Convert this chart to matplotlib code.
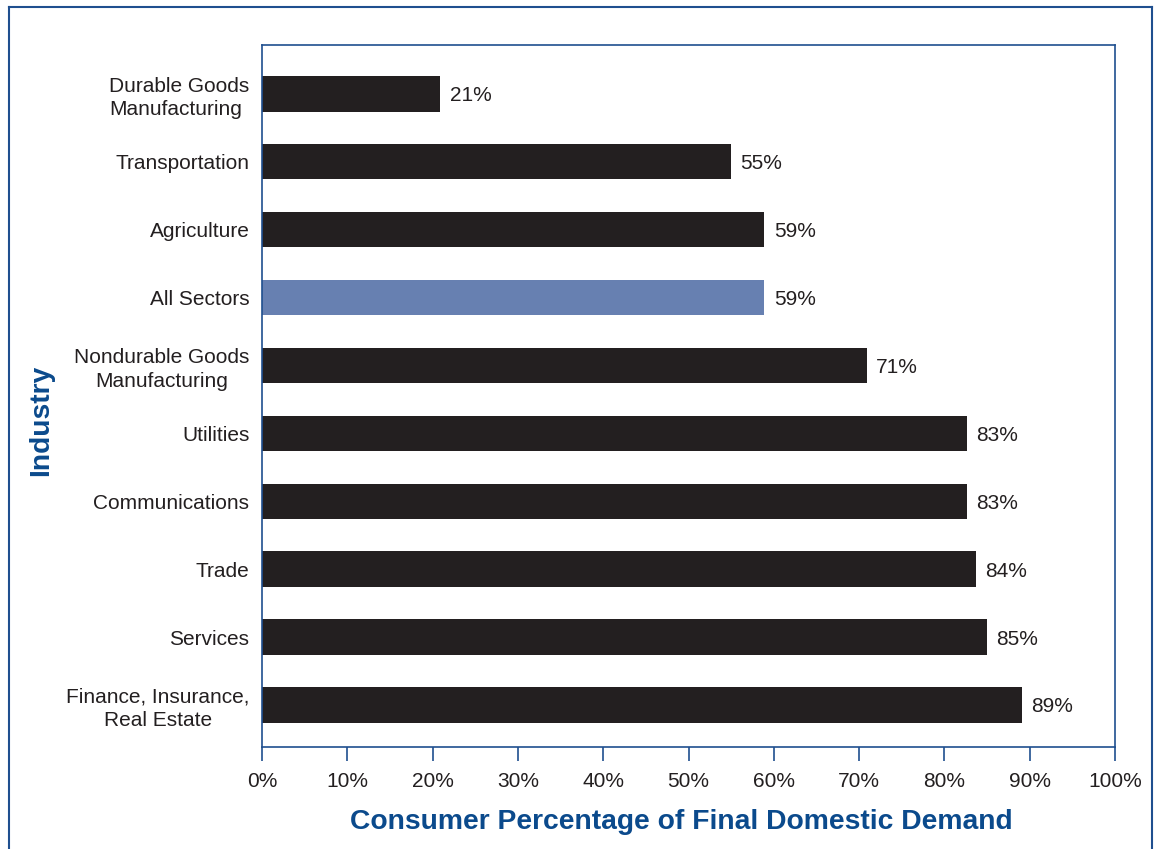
import matplotlib.pyplot as plt
import numpy as np
from matplotlib.lines import Line2D

plt.rcParams['font.family'] = ['Liberation Sans', 'DejaVu Sans']

industries = ["Durable Goods\nManufacturing", "Transportation", "Agriculture", "All Sectors",
              "Nondurable Goods\nManufacturing", "Utilities", "Communications", "Trade",
              "Services", "Finance, Insurance,\nReal Estate"]
shares = [20.9, 55.0, 58.9, 58.9, 70.9, 82.6, 82.6, 83.7, 85.0, 89.1]
bar_labels = ["21%", "55%", "59%", "59%", "71%", "83%", "83%", "84%", "85%", "89%"]
xticks = np.arange(0, 101, 10)

dark = "#231f20"
highlight = "#6780b1"
navy = "#0b4a8c"
frame = "#1f4f8f"

fig = plt.figure(figsize=(11.57, 8.49), dpi=100)
ax = fig.add_axes([262/1157, 1 - 747/849, (1115-262)/1157, (747-45)/849])

y = np.arange(len(industries))
colors = [highlight if name == "All Sectors" else dark for name in industries]
ax.barh(y, shares, height=0.52, color=colors)

for yi, v, lab in zip(y, shares, bar_labels):
    ax.text(v + 1.1, yi + 0.03, lab, va="center", ha="left", fontsize=15, color="#231f20")

ax.set_xlim(0, 100)
ax.set_ylim(9.62, -0.72)
ax.set_xticks(xticks)
ax.set_xticklabels([f"{t}%" for t in xticks], fontsize=15, color="#231f20")
ax.set_yticks(y)
ax.set_yticklabels(industries, fontsize=15, color="#231f20", linespacing=1.3)
for i, t in enumerate(ax.get_yticklabels()):
    t.set_multialignment("left" if i == 0 else "center")

ax.tick_params(axis="y", length=0, pad=9)
ax.tick_params(axis="x", length=10, width=1.2, color=frame, pad=8)
for s in ax.spines.values():
    s.set_color(frame)
    s.set_linewidth(1.2)

ax.set_xlabel("Consumer Percentage of Final Domestic Demand", fontsize=20.3,
              fontweight="bold", color=navy)
ax.xaxis.set_label_coords(0.491, -0.089)
fig.text(41/1157, 1 - 420/849, "Industry", rotation=90, fontsize=20.3, fontweight="bold",
         color=navy, ha="center", va="center")

# outer frame (open at the bottom)
x0, x1, yt = 9/1157, 1152/1157, 1 - 7/849
for xs, ys in [([x0, x0], [0, yt]), ([x0, x1], [yt, yt]), ([x1, x1], [yt, 0])]:
    fig.add_artist(Line2D(xs, ys, color=frame, linewidth=1.5, transform=fig.transFigure))

fig.savefig("out.png", dpi=100)
